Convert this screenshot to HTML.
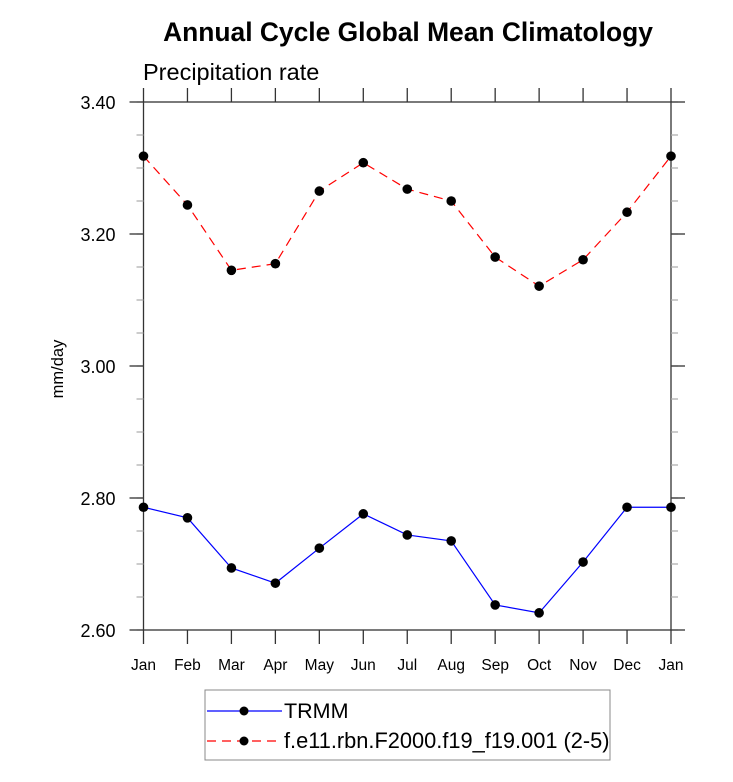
<!DOCTYPE html>
<html><head><meta charset="utf-8"><style>body{margin:0;background:#fff}svg{display:block;font-family:"Liberation Sans",sans-serif}</style></head>
<body>
<svg id="chart" width="733" height="782" viewBox="0 0 733 782">
<text x="408" y="41" text-anchor="middle" font-size="26.4" font-weight="bold">Annual Cycle Global Mean Climatology</text>
<text x="143" y="80" font-size="23.5">Precipitation rate</text>
<text transform="translate(63,369) rotate(-90)" text-anchor="middle" font-size="16.5">mm/day</text>
<g id="axes"></g>
<g id="series"></g>
<g>
<rect x="205" y="690" width="405" height="70" fill="none" stroke="#888" stroke-width="1"/>
<line x1="207" y1="711" x2="282" y2="711" stroke="#00f" stroke-width="1.2"/>
<circle cx="244" cy="711" r="4.5"/>
<text x="284" y="718" font-size="21.5">TRMM</text>
<line x1="207" y1="741" x2="282" y2="741" stroke="#f00" stroke-width="1.2" stroke-dasharray="9,6"/>
<circle cx="244" cy="741" r="4.5"/>
<text x="284" y="748" font-size="21.8">f.e11.rbn.F2000.f19_f19.001 (2-5)</text>
</g>
</svg>
<script>
const months=["Jan","Feb","Mar","Apr","May","Jun","Jul","Aug","Sep","Oct","Nov","Dec","Jan"];
const trmm=[2.786,2.770,2.694,2.671,2.724,2.776,2.744,2.735,2.638,2.626,2.703,2.786,2.786];
const model=[3.318,3.244,3.145,3.155,3.265,3.308,3.268,3.250,3.165,3.121,3.161,3.233,3.318];
const yTicks=[2.60,2.80,3.00,3.20,3.40];
const X0=143.5,X1=671,Y0=630,Y1=102,YMIN=2.6,YMAX=3.4;
const xs=i=>X0+(X1-X0)*i/(months.length-1);
const ys=v=>Y0-(v-YMIN)/(YMAX-YMIN)*(Y0-Y1);
const NS="http://www.w3.org/2000/svg";
function mk(t,a,p){const e=document.createElementNS(NS,t);for(const k in a)e.setAttribute(k,a[k]);p.appendChild(e);return e;}
const ax=document.getElementById('axes');
const frame=mk('rect',{x:X0,y:Y1,width:X1-X0,height:Y0-Y1,fill:'none',stroke:'#333','stroke-width':1.3},ax);


for(let k=0;k<=16;k++){const y=ys(YMIN+k*0.05);mk('line',{x1:X0-7,y1:y,x2:X0,y2:y,stroke:'#aaa','stroke-width':1.2},ax);mk('line',{x1:X1,y1:y,x2:X1+7,y2:y,stroke:'#aaa','stroke-width':1.2},ax);}
yTicks.forEach(v=>{const y=ys(v);mk('line',{x1:X0-14,y1:y,x2:X0,y2:y,stroke:'#333','stroke-width':1.3},ax);mk('line',{x1:X1,y1:y,x2:X1+14,y2:y,stroke:'#333','stroke-width':1.3},ax);
const t=mk('text',{x:X0-28,y:y+7,'text-anchor':'end','font-size':18},ax);t.textContent=v.toFixed(2);

});
months.forEach((m,i)=>{const x=xs(i);mk('line',{x1:x,y1:Y1-14,x2:x,y2:Y1,stroke:'#333','stroke-width':1.3},ax);mk('line',{x1:x,y1:Y0,x2:x,y2:Y0+14,stroke:'#333','stroke-width':1.3},ax);
const t=mk('text',{x:x,y:Y0+40,'text-anchor':'middle','font-size':15.5},ax);t.textContent=m;

});
const sg=document.getElementById('series');
function series(d,col,dash,name){const l=mk('polyline',{points:d.map((v,i)=>xs(i)+','+ys(v)).join(' '),fill:'none',stroke:col,'stroke-width':1.2,'stroke-dasharray':dash},sg);


d.forEach((v,i)=>{const c=mk('circle',{cx:xs(i),cy:ys(v),r:4.8},sg);

});}
series(trmm,'#00f','none','trmm');
series(model,'#f00','9,6','model');
</script>
</body></html>
